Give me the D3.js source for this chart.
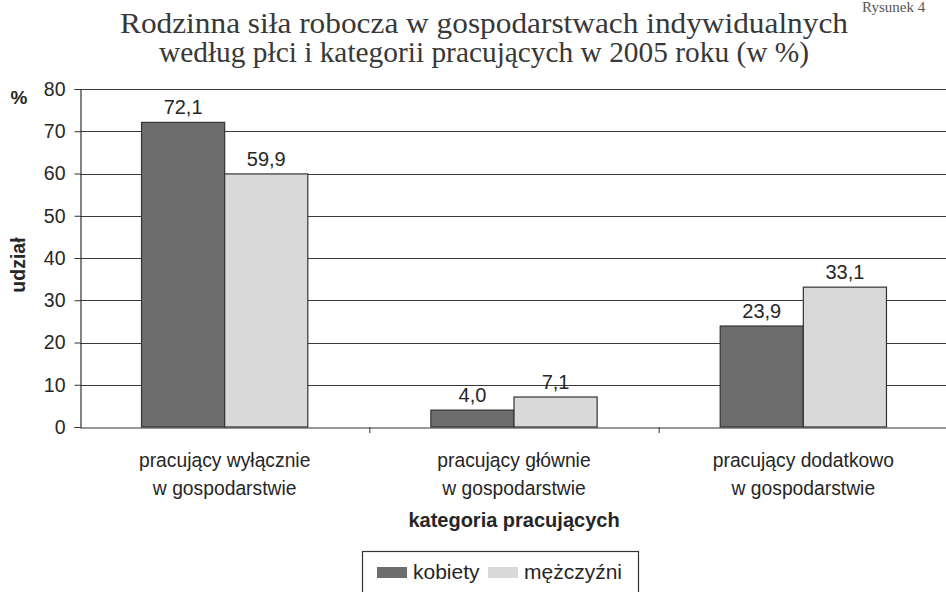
<!DOCTYPE html>
<html><head><meta charset="utf-8">
<script src="https://cdn.jsdelivr.net/npm/d3@7"></script>
<style>
html,body{margin:0;padding:0;background:#fff;}
svg{display:block;}
text{font-family:"Liberation Sans",Arial,sans-serif;fill:#262626;}
</style></head>
<body>
<svg id="c" width="946" height="592"></svg>
<script>
const titleLines = ["Rodzinna siła robocza w gospodarstwach indywidualnych", "według płci i kategorii pracujących w 2005 roku (w %)"];
const categories = ["pracujący wyłącznie|w gospodarstwie", "pracujący głównie|w gospodarstwie", "pracujący dodatkowo|w gospodarstwie"];
const seriesNames = ["kobiety", "mężczyźni"];
const kobiety = [72.1, 4.0, 23.9];
const mezczyzni = [59.9, 7.1, 33.1];
const yTicks = [0, 10, 20, 30, 40, 50, 60, 70, 80];
const colors = ["#6d6d6d", "#d9d9d9"];

const svg = d3.select("#c");
const W = 946;
const pLeft = 80, pRight = 948, pTop = 89, pBottom = 427;

const x0 = d3.scaleBand().domain(categories).range([pLeft, pRight]).padding(0);
const x1 = d3.scaleBand().domain(seriesNames).range([0, x0.bandwidth()]).paddingInner(0).paddingOuter(0.74);
const y = d3.scaleLinear().domain([0, 80]).range([pBottom, pTop]);
const color = d3.scaleOrdinal().domain(seriesNames).range(colors);
const fmt = v => d3.format(".1f")(v).replace(".", ",");

// Title
const titleW = [728, 650];
svg.selectAll("text.title").data(titleLines).enter().append("text")
  .attr("class", "title")
  .attr("x", 484).attr("y", (d, i) => 33 + i * 29)
  .attr("text-anchor", "middle")
  .attr("textLength", (d, i) => titleW[i]).attr("lengthAdjust", "spacingAndGlyphs")
  .style("font-family", "'Liberation Serif','DejaVu Serif',serif")
  .style("font-size", "29px").style("fill", "#383838")
  .text(d => d);
svg.append("text").attr("x", 862).attr("y", 12)
  .style("font-family", "'Liberation Serif',serif").style("font-size", "15px").style("fill", "#555")
  .text("Rysunek 4");

// Gridlines
svg.append("g").selectAll("line").data(yTicks.filter(t => t > 0)).enter().append("line")
  .attr("x1", pLeft).attr("x2", W).attr("y1", d => Math.round(y(d)) + 0.5).attr("y2", d => Math.round(y(d)) + 0.5)
  .attr("stroke", "#3a3a3a").attr("stroke-width", 1.2);

// Y axis
const yAxis = svg.append("g").attr("transform", `translate(${pLeft + 0.5},0)`)
  .call(d3.axisLeft(y).tickValues(yTicks).tickSize(6).tickPadding(9).tickFormat(d3.format("d")));
yAxis.select(".domain").attr("stroke", "#333").attr("stroke-width", 1.2);
yAxis.selectAll(".tick line").attr("stroke", "#333");
yAxis.selectAll(".tick text").style("font-size", "19.5px").style("fill", "#262626").attr("font-family", null);

// Bars
const groups = svg.append("g").selectAll("g").data(categories).enter().append("g")
  .attr("transform", d => `translate(${x0(d)},0)`);
groups.selectAll("rect").data((d, i) => seriesNames.map((s, j) => ({s, v: j === 0 ? kobiety[i] : mezczyzni[i]})))
  .enter().append("rect")
  .attr("x", d => x1(d.s)).attr("width", x1.bandwidth())
  .attr("y", d => y(d.v)).attr("height", d => y(0) - y(d.v))
  .attr("fill", d => color(d.s)).attr("stroke", "#333").attr("stroke-width", 1.2);
groups.selectAll("text.val").data((d, i) => seriesNames.map((s, j) => ({s, v: j === 0 ? kobiety[i] : mezczyzni[i]})))
  .enter().append("text").attr("class", "val")
  .attr("x", d => x1(d.s) + x1.bandwidth() / 2).attr("y", d => y(d.v) - 8)
  .attr("text-anchor", "middle").style("font-size", "20px")
  .text(d => fmt(d.v));

// X axis
const xAxis = svg.append("g").attr("transform", `translate(0,${pBottom + 0.5})`)
  .call(d3.axisBottom(x0).tickSize(0).tickFormat(""));
xAxis.select(".domain").attr("stroke", "#333").attr("stroke-width", 1.2);
svg.append("g").selectAll("line").data(categories.slice(1)).enter().append("line")
  .attr("x1", d => x0(d) + 0.5).attr("x2", d => x0(d) + 0.5)
  .attr("y1", pBottom).attr("y2", pBottom + 6).attr("stroke", "#333");

// Category labels
const cl = svg.append("g").selectAll("text").data(categories).enter().append("text")
  .attr("x", d => x0(d) + x0.bandwidth() / 2).attr("y", 467)
  .attr("text-anchor", "middle").style("font-size", "19.3px");
cl.selectAll("tspan").data(d => d.split("|")).enter().append("tspan")
  .attr("x", function () { return this.parentNode.getAttribute("x"); })
  .attr("dy", (d, i) => i === 0 ? 0 : 28).text(d => d);

// Axis titles
svg.append("text")
  .attr("x", x0(categories[1]) + x0.bandwidth() / 2).attr("y", 527)
  .attr("text-anchor", "middle").style("font-size", "20px").style("font-weight", "bold")
  .text("kategoria pracujących");
svg.append("text").attr("transform", "translate(25,265) rotate(-90)")
  .attr("text-anchor", "middle").style("font-size", "19.5px").style("font-weight", "bold")
  .text("udział");
svg.append("text").attr("x", 19).attr("y", 104).attr("text-anchor", "middle")
  .style("font-size", "19px").style("font-weight", "bold").text("%");

// Legend
const lg = svg.append("g");
lg.append("rect").attr("x", 362.5).attr("y", 551.5).attr("width", 276).attr("height", 60)
  .attr("fill", "#fff").attr("stroke", "#333").attr("stroke-width", 1.2);
const lx = [377, 488];
seriesNames.forEach((s, i) => {
  lg.append("rect").attr("x", lx[i]).attr("y", 567).attr("width", 30).attr("height", 11).attr("fill", color(s));
  lg.append("text").attr("x", lx[i] + 36).attr("y", 579).style("font-size", "21px").text(s);
});
</script>
</body></html>
